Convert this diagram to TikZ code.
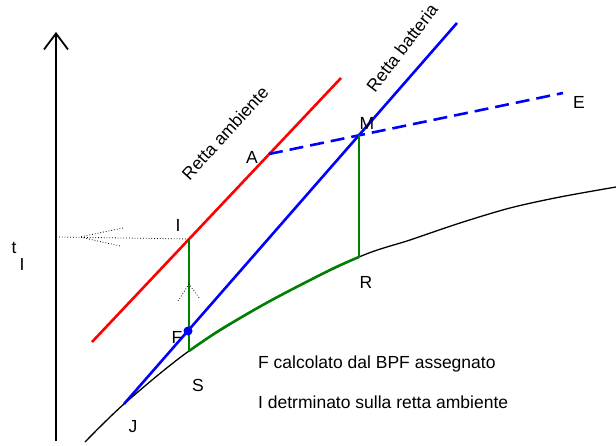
\documentclass[tikz,border=0pt]{standalone}
\usepackage{fontspec}
\setmainfont{Liberation Sans}
\usetikzlibrary{arrows.meta}

\begin{document}
\begin{tikzpicture}[x=1pt,y=-1pt,>={Straight Barb[length=16pt,width=24pt]},
  lbl/.style={inner sep=0pt,font=\fontsize{17.5}{20}\selectfont},
  retta/.style={line width=2.6pt},
  guida/.style={dotted,line width=0.8pt}]
\useasboundingbox (0,0) rectangle (616,446);
% asse verticale
\coordinate (O) at (56,441);
\coordinate (T) at (56,32);
\draw[->,line width=1.8pt] (O) -- (T);
% punti
\coordinate (J) at (124,404);
\coordinate (S) at (189,351);
\coordinate (R) at (359,257);
\coordinate (I) at (189,239);
\coordinate (F) at (188,331);
\coordinate (M) at (359,135);
\coordinate (A) at (269,154);
\coordinate (E) at (563,93);
\coordinate (Ra) at (92,342);
\coordinate (Rb) at (341,78);
\coordinate (Bb) at (457,23);
% curva di saturazione
\draw[line width=1.3pt] plot[smooth] coordinates {(85,442) (J) (S) (270,301) (R) (410,240) (460,223) (510,208) (560,197) (616,187)};
% rette
\draw[retta,red] (Ra) -- (Rb);
\draw[retta,blue] (J) -- (Bb);
\draw[retta,blue,dash pattern=on 14pt off 7pt] (A) -- (E);
\draw[retta,green!50!black] plot[smooth] coordinates {(S) (220,330) (270,301) (330,270) (R)};
\draw[retta,green!50!black] (I) -- (S);
\draw[retta,green!50!black] (M) -- (R);
\fill[blue] (F) circle (4.5);
% tratteggi
\coordinate (P) at (59,237);
\coordinate (P0) at (80,237);
\coordinate (P1) at (123,228);
\coordinate (P2) at (120,246);
\draw[guida] (P) -- (I);
\draw[guida] (P1) -- (P0) -- (P2);
\coordinate (Q0) at (189,284);
\coordinate (Q1) at (178,301);
\coordinate (Q2) at (200,299);
\draw[guida] (Q1) -- (Q0) -- (Q2);
% etichette
\node[lbl] (lA) at (252,157) {A};
\node[lbl] (lM) at (367,123) {M};
\node[lbl] (lE) at (579,102) {E};
\node[lbl] (lI) at (178,225) {I};
\node[lbl] (lF) at (177,337) {F};
\node[lbl] (lS) at (198,385) {S};
\node[lbl] (lJ) at (133,427) {J};
\node[lbl] (lR) at (366,282) {R};
\node[lbl] (lt) at (14,248) {t};
\node[lbl] (ltI) at (22,264) {I};
\node[lbl,rotate=47.6] (amb) at (225,133) {Retta ambiente};
\node[lbl,rotate=52.7] (bat) at (402,48) {Retta batteria};
\node[lbl,anchor=base west] (nota1) at (258,368) {F calcolato dal BPF assegnato};
\node[lbl,anchor=base west] (nota2) at (258,408) {I detrminato sulla retta ambiente};
\end{tikzpicture}
\end{document}
